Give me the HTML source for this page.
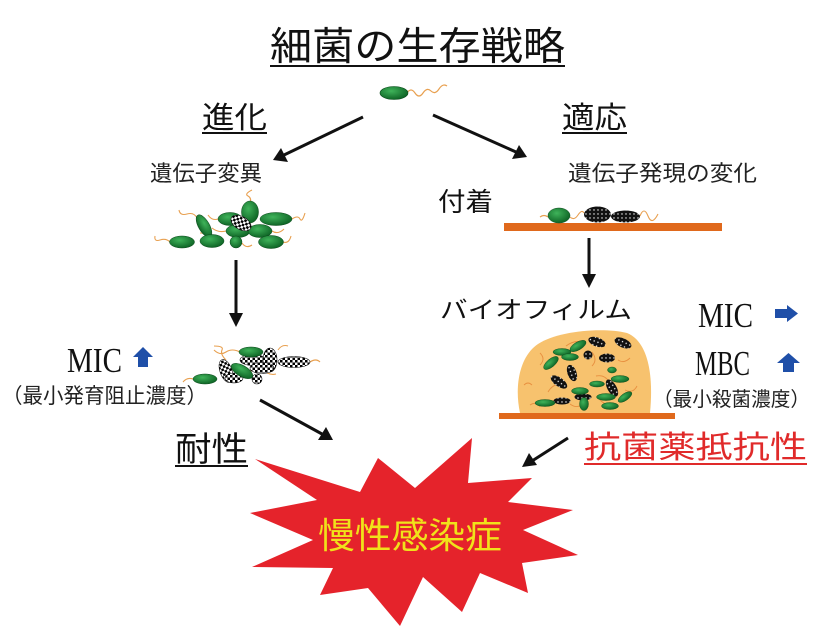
<!DOCTYPE html>
<html><head><meta charset="utf-8"><style>
html,body{margin:0;padding:0;background:#fff;}
svg{display:block;}
text{font-family:"Liberation Sans","Noto Sans CJK JP",sans-serif;}
.s{font-family:"Liberation Serif","Noto Serif CJK SC",serif;}
</style></head><body>
<svg width="840" height="627" viewBox="0 0 840 627" xmlns="http://www.w3.org/2000/svg">
<defs>
<radialGradient id="g" cx="40%" cy="35%" r="70%"><stop offset="0" stop-color="#3fb35a"/><stop offset="1" stop-color="#0b5f22"/></radialGradient>
<pattern id="chk" width="5" height="5" patternUnits="userSpaceOnUse"><rect width="5" height="5" fill="#fff"/><rect width="2.5" height="2.5" fill="#000"/><rect x="2.5" y="2.5" width="2.5" height="2.5" fill="#000"/></pattern>
<pattern id="dot" width="4" height="4" patternUnits="userSpaceOnUse"><rect width="4" height="4" fill="#111"/><circle cx="2" cy="2" r="0.7" fill="#fff"/></pattern>
</defs>

<!-- title -->
<text x="270" y="60" font-size="39" textLength="295" lengthAdjust="spacingAndGlyphs" fill="#111">細菌の生存戦略</text>
<rect x="270" y="65" width="295" height="2" fill="#111"/>

<!-- top bacterium -->
<path d="M407,93 q4,-6 8,0 t8,0 t8,-2 t8,-2 t8,-3" fill="none" stroke="#e8a050" stroke-width="1.2"/>
<ellipse cx="394" cy="93" rx="14" ry="6.5" fill="url(#g)" stroke="#0a4a1a" stroke-width="0.6"/>

<!-- 進化 / 適応 -->
<text x="202" y="128" font-size="30" textLength="65" lengthAdjust="spacingAndGlyphs" fill="#111">進化</text>
<rect x="202" y="132" width="65" height="2" fill="#111"/>
<text x="562" y="128" font-size="30" textLength="65" lengthAdjust="spacingAndGlyphs" fill="#111">適応</text>
<rect x="562" y="132" width="65" height="2" fill="#111"/>

<!-- black arrows -->
<g stroke="#111" stroke-width="3" fill="none">
<line x1="363" y1="117" x2="284" y2="155"/>
<line x1="433" y1="115" x2="516" y2="152"/>
<line x1="236" y1="260" x2="236" y2="315"/>
<line x1="589" y1="238" x2="589" y2="277"/>
<line x1="260" y1="400" x2="322" y2="434"/>
<line x1="568" y1="438" x2="532" y2="461"/>
</g>
<g fill="#111">
<polygon points="273,160 281,148 288,162"/>
<polygon points="527,157 512,159 519,145"/>
<polygon points="236,327 229,313 243,313"/>
<polygon points="589,288 582,274 596,274"/>
<polygon points="333,440 318,440 326,427"/>
<polygon points="522,467 529,453 537,465"/>
</g>

<!-- labels -->
<text x="150" y="181" font-size="22" textLength="112" lengthAdjust="spacingAndGlyphs" fill="#222">遺伝子変異</text>
<text x="568" y="181" font-size="22" textLength="189" lengthAdjust="spacingAndGlyphs" fill="#222">遺伝子発現の変化</text>
<text x="438" y="211" font-size="26" textLength="55" lengthAdjust="spacingAndGlyphs" fill="#111">付着</text>
<text x="440" y="318" font-size="24" textLength="192" lengthAdjust="spacingAndGlyphs" fill="#111">バイオフィルム</text>

<!-- cluster 1 -->
<g fill="none" stroke="#e8a050" stroke-width="1.1">
<path d="M170,242 q-4,-4 -10,-2 t-5,-4"/>
<path d="M197,218 q-3,-6 -10,-4 t-8,-4"/>
<path d="M212,241 q-2,-8 -12,-8"/>
<path d="M250,204 q2,-6 -2,-8 t4,-6"/>
<path d="M292,219 q6,-4 8,0 t5,-6"/>
<path d="M283,242 q6,2 8,-6"/>
<path d="M218,219 q-6,2 -10,-4"/>
<path d="M226,231 q-8,2 -14,-3"/>
<path d="M272,231 q6,4 12,-2"/>
<path d="M242,243 q4,6 10,2"/>
</g>
<g stroke="#0a4a1a" stroke-width="0.5" fill="url(#g)">
<ellipse cx="182" cy="242" rx="12.5" ry="6"/>
<ellipse cx="204" cy="226" rx="12.5" ry="5.5" transform="rotate(60 204 226)"/>
<ellipse cx="212" cy="241" rx="12" ry="6.5"/>
<ellipse cx="230" cy="219" rx="12" ry="6.5"/>
<ellipse cx="250" cy="212" rx="8.5" ry="11"/>
<ellipse cx="276" cy="219" rx="16" ry="6.5"/>
<ellipse cx="238" cy="231" rx="12" ry="6.5"/>
<ellipse cx="260" cy="231" rx="12" ry="6.5"/>
<ellipse cx="236" cy="242" rx="6" ry="6"/>
<ellipse cx="271" cy="242" rx="12.5" ry="6.5"/>
</g>
<ellipse cx="241" cy="223" rx="11" ry="6.5" transform="rotate(30 241 223)" fill="url(#chk)" stroke="#111" stroke-width="0.6"/>

<!-- cluster 2 -->
<g fill="none" stroke="#e8a050" stroke-width="1.1">
<path d="M193,379 q-6,-2 -10,3"/>
<path d="M240,352 q-8,-4 -14,0 t-12,-2"/>
<path d="M226,360 q-6,-6 -4,-10 t-8,-4"/>
<path d="M310,362 q6,-4 10,0"/>
<path d="M262,368 q6,8 14,6"/>
<path d="M278,350 q4,-6 10,-4"/>
<path d="M252,371 q-8,-2 -14,4"/>
<path d="M235,378 q-6,4 -10,0"/>
</g>
<g stroke="#111" stroke-width="0.6" fill="url(#chk)">
<ellipse cx="226" cy="371" rx="12" ry="6" transform="rotate(70 226 371)"/>
<ellipse cx="253" cy="360" rx="13" ry="5.5"/>
<ellipse cx="270" cy="360" rx="7" ry="12"/>
<ellipse cx="294" cy="362" rx="16" ry="5.5"/>
<ellipse cx="262" cy="368" rx="12" ry="5.5"/>
<ellipse cx="234" cy="378" rx="9" ry="5"/>
<ellipse cx="257" cy="379" rx="5" ry="5"/>
</g>
<g stroke="#0a4a1a" stroke-width="0.5" fill="url(#g)">
<ellipse cx="205" cy="379" rx="12" ry="5"/>
<ellipse cx="251" cy="352" rx="12" ry="5"/>
<ellipse cx="242" cy="371" rx="12" ry="5.5" transform="rotate(30 242 371)"/>
</g>

<!-- attach bar -->
<rect x="504" y="223" width="218" height="8" fill="#e0691c"/>
<g fill="none" stroke="#e8a050" stroke-width="1.1">
<path d="M548,217 q-4,-3 -8,0"/>
<path d="M570,217 q4,4 8,-2 t6,-2"/>
<path d="M640,216 q4,-10 8,0 t10,-2"/>
</g>
<ellipse cx="559" cy="215.5" rx="11" ry="7.5" fill="url(#g)" stroke="#0a4a1a" stroke-width="0.5"/>
<ellipse cx="597.5" cy="214.5" rx="13.5" ry="8" fill="url(#dot)"/>
<ellipse cx="625.5" cy="216.5" rx="14.5" ry="6" fill="url(#dot)"/>

<!-- biofilm -->
<path d="M520,413 C514,385 520,356 538,344 C558,331 602,327 627,333 C647,341 654,372 650,413 Z" fill="#f7c26e"/>
<rect x="499" y="413" width="176" height="6" fill="#e0691c"/>
<g fill="none" stroke="#e89040" stroke-width="0.9">
<path d="M540,365 q6,-6 0,-12"/>
<path d="M566,346 q8,-6 16,-4"/>
<path d="M592,352 q6,8 0,14"/>
<path d="M596,376 q10,-2 14,8"/>
<path d="M548,392 q6,-10 14,-6"/>
<path d="M570,404 q8,6 14,-2"/>
<path d="M618,360 q6,4 12,-2"/>
<path d="M600,400 q6,6 12,4"/>
<path d="M530,405 q6,-4 10,2"/>
<path d="M625,390 q8,4 12,-4"/>
<path d="M524,385 q4,-4 8,0"/>
</g>
<g fill="url(#dot)">
<ellipse cx="597" cy="342" rx="9" ry="4.5" transform="rotate(20 597 342)"/>
<ellipse cx="623" cy="343" rx="9" ry="4.5" transform="rotate(25 623 343)"/>
<ellipse cx="588" cy="355" rx="4.5" ry="4.5"/>
<ellipse cx="607" cy="358" rx="8" ry="4.5"/>
<ellipse cx="572" cy="373" rx="8.5" ry="4.5" transform="rotate(70 572 373)"/>
<ellipse cx="559" cy="382" rx="9.5" ry="4.5" transform="rotate(35 559 382)"/>
<ellipse cx="612" cy="388" rx="9.5" ry="4.5" transform="rotate(60 612 388)"/>
<ellipse cx="562" cy="401" rx="8.5" ry="3.5"/>
<ellipse cx="583" cy="397" rx="8.5" ry="3.5"/>
</g>
<g fill="url(#g)" stroke="#0a4a1a" stroke-width="0.4">
<ellipse cx="562" cy="352" rx="9" ry="3.5"/>
<ellipse cx="578" cy="346" rx="9" ry="4" transform="rotate(-30 578 346)"/>
<ellipse cx="551" cy="363" rx="9" ry="4" transform="rotate(-40 551 363)"/>
<ellipse cx="570" cy="357" rx="8.5" ry="3.5"/>
<ellipse cx="612" cy="370" rx="4.5" ry="3"/>
<ellipse cx="620" cy="379" rx="9" ry="3.5"/>
<ellipse cx="597" cy="384" rx="7.5" ry="3"/>
<ellipse cx="606" cy="397" rx="9.5" ry="3.5"/>
<ellipse cx="580" cy="391" rx="8.5" ry="3.5"/>
<ellipse cx="545" cy="403" rx="10" ry="3.5"/>
<ellipse cx="584" cy="404" rx="4.5" ry="6.5"/>
<ellipse cx="610" cy="406" rx="8.5" ry="3.5"/>
<ellipse cx="625" cy="397" rx="8" ry="3.5" transform="rotate(-35 625 397)"/>
</g>

<!-- MIC / MBC right -->
<text class="s" x="698" y="327" font-size="35" textLength="55" lengthAdjust="spacingAndGlyphs" fill="#111">MIC</text>
<text class="s" x="695" y="375" font-size="35" textLength="55" lengthAdjust="spacingAndGlyphs" fill="#111">MBC</text>
<polygon points="775,309 787,309 787,305 798,313.5 787,322 787,318 775,318" fill="#1f4fa8"/>
<polygon points="788.5,353 800,363 794,363 794,372 783,372 783,363 777,363" fill="#1f4fa8"/>
<text x="653" y="406" font-size="20" textLength="157" lengthAdjust="spacingAndGlyphs" fill="#222">（最小殺菌濃度）</text>

<!-- 抗菌薬抵抗性 -->
<text x="584" y="458" font-size="31" textLength="223" lengthAdjust="spacingAndGlyphs" fill="#e02a2a">抗菌薬抵抗性</text>
<rect x="584" y="463" width="223" height="2" fill="#e02a2a"/>

<!-- MIC left -->
<text class="s" x="67" y="372" font-size="35" textLength="55" lengthAdjust="spacingAndGlyphs" fill="#111">MIC</text>
<polygon points="143,347 153,357 148,357 148,367 138,367 138,357 133,357" fill="#1f4fa8"/>
<text x="2" y="403" font-size="21" textLength="205" lengthAdjust="spacingAndGlyphs" fill="#222">（最小発育阻止濃度）</text>

<!-- 耐性 -->
<text x="175" y="461" font-size="34" textLength="73" lengthAdjust="spacingAndGlyphs" fill="#111">耐性</text>
<rect x="175" y="465" width="73" height="2" fill="#111"/>

<!-- star -->
<polygon points="255,459 360,492 378,458 415,488 472,438 468,483 532,478 508,502 573,510 523,530 578,555 522,563 528,593 480,573 462,612 423,577 400,626 368,588 320,595 333,568 252,567 313,540 250,513 317,500" fill="#e5232b"/>
<text x="318" y="548" font-size="36" textLength="184" lengthAdjust="spacingAndGlyphs" fill="#f0e21a">慢性感染症</text>
</svg>
</body></html>
